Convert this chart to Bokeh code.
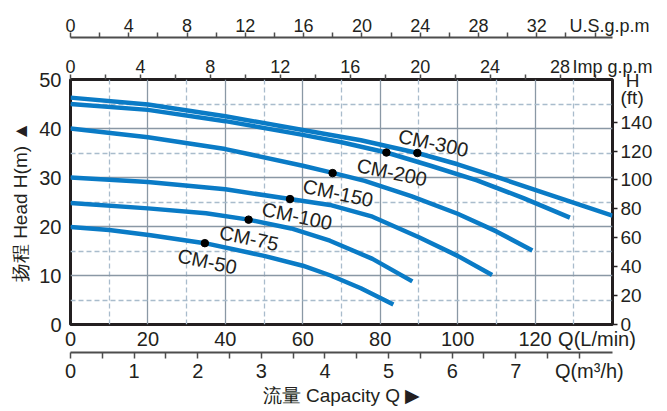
from bokeh.plotting import figure
from bokeh.models import LinearAxis, Range1d, FixedTicker, ColumnDataSource
from bokeh.embed import file_html
from bokeh.resources import INLINE
from bokeh.core.properties import value

# ---------------- data ----------------
# flow in L/min, head in m
cm50_q = [0, 10, 20.7, 34.7, 50, 60, 67.2, 75, 83.4]
cm50_h = [19.9, 19.3, 18.2, 16.6, 14.0, 12.0, 10.0, 7.4, 4.1]

cm75_q = [0, 20, 35, 46, 57, 67, 78, 88.3]
cm75_h = [24.8, 23.7, 22.7, 21.4, 19.6, 17.1, 13.4, 8.8]

cm100_q = [0, 20, 40, 56.7, 67, 78, 90, 100, 108.9]
cm100_h = [30.0, 29.1, 27.6, 25.6, 24.4, 22.0, 17.8, 14.0, 10.1]

cm150_q = [0, 20, 40, 60, 68, 76, 88, 100, 110, 119.3]
cm150_h = [40.0, 38.2, 35.8, 32.4, 30.9, 29.3, 26.2, 22.6, 19.0, 15.1]

cm200_q = [0, 20, 40, 60, 70, 81.6, 93, 105, 117, 129]
cm200_h = [45.0, 43.8, 41.5, 38.7, 37.2, 35.1, 32.4, 29.4, 25.8, 21.8]

cm300_q = [0, 20, 40, 60, 75, 89.6, 100, 112, 126, 140]
cm300_h = [46.3, 44.9, 42.5, 39.7, 37.6, 35.0, 32.7, 29.6, 25.9, 22.2]

models = ["CM-50", "CM-75", "CM-100", "CM-150", "CM-200", "CM-300"]
rated_q = [34.7, 46.0, 56.7, 67.7, 81.6, 89.6]
rated_h = [16.6, 21.4, 25.6, 30.9, 35.1, 35.0]

head_ticks = [0, 10, 20, 30, 40, 50]
ft_ticks = [0, 20, 40, 60, 80, 100, 120, 140]
lmin_ticks = [0, 20, 40, 60, 80, 100, 120]
m3h_ticks = [0, 1, 2, 3, 4, 5, 6, 7]
m3h_marks = [0, 0.5, 1, 1.5, 2, 2.5, 3, 3.5, 4, 4.5, 5, 5.5, 6, 6.5, 7, 7.5, 8]
usgpm_ticks = [0, 4, 8, 12, 16, 20, 24, 28, 32]
usgpm_marks = [0, 2, 4, 6, 8, 10, 12, 14, 16, 18, 20, 22, 24, 26, 28, 30, 32, 34, 36]
imp_ticks = [0, 4, 8, 12, 16, 20, 24, 28]
imp_marks = [0, 2, 4, 6, 8, 10, 12, 14, 16, 18, 20, 22, 24, 26, 28, 30]

grid_x_major = [20, 40, 60, 80, 100, 120]
grid_x_minor = [10, 30, 50, 70, 90, 110, 130]
grid_y_major = [10, 20, 30, 40]
grid_y_minor = [5, 15, 25, 35, 45]

# axis spans matching the frame
q_max_lmin = 140
h_max_m = 50
ft_max = 169.5
usgpm_max = 37.2
imp_max = 31
m3h_max = 8.52

# unit captions, placed at the end of each scale
lmin_unit = ("Q(L/min)", 136)
m3h_unit = ("Q(m³/h)", 8.156)
usgpm_unit = ("U.S.g.p.m", 37)
imp_unit = ("Imp g.p.m", 31)
ft_units = [("(ft)", 157), ("\u00a0H", 169)]

# ---------------- styling ----------------
FONT = "Liberation Sans"
TXT = "#231f20"
BLUE = "#0a7bc6"
AX = "#4d4d4d"
label_dx = [2.4, 0.5, 7, 5.5, 5.5, 16]
label_dy = [18.3, 18.5, 17, 20, 19.7, -10]

p = figure(width=667, height=411,
           x_range=Range1d(0, q_max_lmin), y_range=Range1d(0, h_max_m),
           output_backend="svg", toolbar_location=None,
           min_border_left=70, min_border_right=55,
           min_border_top=79, min_border_bottom=87)
p.background_fill_color = "white"
p.border_fill_color = "white"
p.outline_line_color = TXT
p.outline_line_width = 3
p.outline_line_alpha = 1.0

p.extra_y_ranges = {"ft": Range1d(0, ft_max)}
p.extra_x_ranges = {"us": Range1d(0, usgpm_max), "imp": Range1d(0, imp_max),
                    "m3h": Range1d(0, m3h_max)}

# grids
for g, maj, mnr in ((p.xgrid[0], grid_x_major, grid_x_minor),
                    (p.ygrid[0], grid_y_major, grid_y_minor)):
    g.ticker = FixedTicker(ticks=maj, minor_ticks=mnr)
    g.grid_line_color = "#8a98a5"
    g.grid_line_width = 1.3
    g.minor_grid_line_color = "#a9bccc"
    g.minor_grid_line_width = 1.3
    g.minor_grid_line_dash = "5 3"


def setup(ax, ticks, unit_items, marks, tick_len, size, standoff, mark_color=AX):
    labels = {t: str(t) for t in ticks}
    for txt, pos in unit_items:
        labels[pos] = txt
    ax.ticker = FixedTicker(ticks=sorted(labels.keys()), minor_ticks=marks)
    ax.major_label_overrides = labels
    ax.major_tick_line_color = None
    if marks:
        ax.minor_tick_in = 0
        ax.minor_tick_out = tick_len
        ax.minor_tick_line_color = mark_color
        ax.minor_tick_line_width = 1.5
    else:
        ax.minor_tick_line_color = None
    ax.major_label_standoff = standoff
    ax.major_label_text_font = FONT
    ax.major_label_text_font_size = size
    ax.major_label_text_color = TXT


def title_style(ax, size):
    ax.axis_label_text_font = FONT
    ax.axis_label_text_font_size = size
    ax.axis_label_text_font_style = "normal"
    ax.axis_label_text_color = TXT


# bottom L/min axis (on the frame)
xa = p.xaxis[0]
xa.axis_line_color = None
setup(xa, lmin_ticks, [lmin_unit], [], 0, "20px", -3)

# left head axis
ya = p.yaxis[0]
ya.axis_line_color = None
setup(ya, head_ticks, [], [], 0, "20px", 3)
ya.axis_label = "扬程 Head H(m) ▲"
title_style(ya, "19px")
ya.axis_label_standoff = 5

# right ft axis
ra = LinearAxis(y_range_name="ft")
ra.axis_line_color = None
setup(ra, ft_ticks, ft_units, ft_ticks, 5, "19px", 2, mark_color=TXT)
p.add_layout(ra, "right")

# bottom m3/h axis
ma = LinearAxis(x_range_name="m3h")
ma.axis_line_color = AX
ma.axis_line_width = 2
setup(ma, m3h_ticks, [m3h_unit], m3h_marks, 6, "20px", 1)
ma.axis_label = "流量 Capacity Q ▶"
title_style(ma, "19px")
ma.axis_label_standoff = 0
p.add_layout(ma, "below")

# top Imp gpm axis (on the frame)
ia = LinearAxis(x_range_name="imp")
ia.axis_line_color = None
setup(ia, imp_ticks, [imp_unit], imp_marks, 5, "18px", -3)
ia.axis_label = " "
ia.axis_label_text_font_size = "8px"
ia.axis_label_standoff = 4
p.add_layout(ia, "above")

# top U.S. gpm axis
ua = LinearAxis(x_range_name="us")
ua.axis_line_color = AX
ua.axis_line_width = 2
setup(ua, usgpm_ticks, [usgpm_unit], usgpm_marks, 5, "18px", -4)
p.add_layout(ua, "above")

# curves
for q, h in ((cm50_q, cm50_h), (cm75_q, cm75_h), (cm100_q, cm100_h),
             (cm150_q, cm150_h), (cm200_q, cm200_h), (cm300_q, cm300_h)):
    p.line(q, h, line_color=BLUE, line_width=4.5)

src = ColumnDataSource(dict(q=rated_q, h=rated_h, name=models, dx=label_dx, dy=label_dy))
p.scatter("q", "h", source=src, size=7.5, fill_color="black", line_color="black")
p.text("q", "h", text="name", source=src, x_offset="dx", y_offset="dy",
       angle=-0.21, text_align="center", text_baseline="middle",
       text_font=value(FONT), text_font_size="20px", text_color=TXT)

open("out.html", "w").write(file_html(p, INLINE))
